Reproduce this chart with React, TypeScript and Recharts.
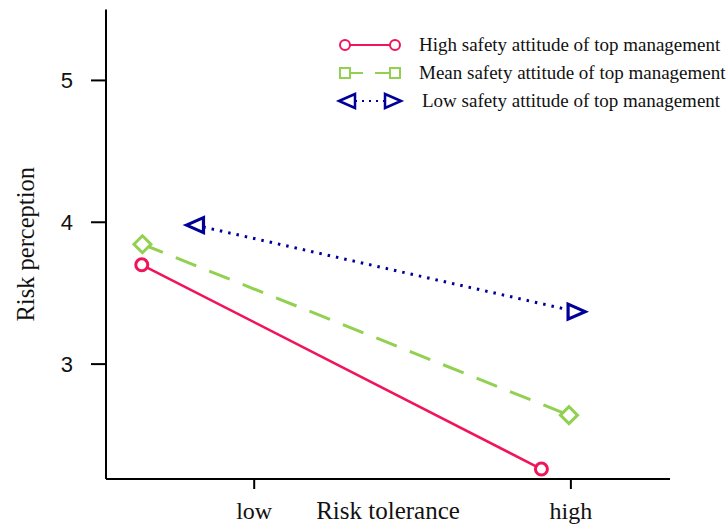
import React from 'react';
import { LineChart, Line, XAxis, YAxis, Legend, Label } from 'recharts';

// risk tolerance (0 = low, 1 = high) and risk perception per group
const highX = [-0.355, 0.907];
const highY = [3.7, 2.26];
const meanX = [-0.353, 0.994];
const meanY = [3.845, 2.64];
const lowX = [-0.187, 1.018];
const lowY = [3.98, 3.37];

const xTicks = [0, 1];
const xTickLabels = ['low', 'high'];
const yTicks = [3, 4, 5];

const seriesNames = [
  'High safety attitude of top management',
  'Mean safety attitude of top management',
  'Low safety attitude of top management',
];

const PINK = '#F0145A';
const GREEN = '#92D050';
const BLUE = '#000099';
const SERIF = '"Liberation Serif", "Times New Roman", serif';
const SANS = '"Liberation Sans", Arial, sans-serif';

const toPoints = (xs: number[], ys: number[]) => xs.map((x, i) => ({ x, y: ys[i] }));

const highData = toPoints(highX, highY);
const meanData = toPoints(meanX, meanY);
const lowData = toPoints(lowX, lowY);

const CircleDot = (props: any) => {
  const { cx, cy, index } = props;
  return <circle key={`c-${index}`} cx={cx} cy={cy} r={6} fill="#fff" stroke={PINK} strokeWidth={3} />;
};

const DiamondDot = (props: any) => {
  const { cx, cy, index } = props;
  const s = 8.5;
  return (
    <path
      key={`d-${index}`}
      d={`M${cx - s},${cy} L${cx},${cy - s} L${cx + s},${cy} L${cx},${cy + s} Z`}
      fill="#fff"
      stroke={GREEN}
      strokeWidth={3}
    />
  );
};

const triPath = (cx: number, cy: number, dir: number, w = 8, h = 7) =>
  `M${cx - dir * w},${cy} L${cx + dir * w},${cy - h} L${cx + dir * w},${cy + h} Z`;

const TriangleDot = (props: any) => {
  const { cx, cy, index } = props;
  // first point points left, last one points right
  const dir = index === 0 ? 1 : -1;
  return (
    <path key={`t-${index}`} d={triPath(cx, cy, dir, 8.5, 7.5)} fill="#fff" stroke={BLUE} strokeWidth={3.2} />
  );
};

const LegendBox = () => {
  const rows = [15, 43, 71];
  const x1 = 15, x2 = 65;
  return (
    <svg width={396} height={90}>
      <line x1={x1} y1={rows[0]} x2={x2} y2={rows[0]} stroke={PINK} strokeWidth={2} />
      <circle cx={x1} cy={rows[0]} r={5} fill="#fff" stroke={PINK} strokeWidth={2} />
      <circle cx={x2} cy={rows[0]} r={5} fill="#fff" stroke={PINK} strokeWidth={2} />

      <line x1={x1 + 4} y1={rows[1]} x2={x2 - 4} y2={rows[1]} stroke={GREEN} strokeWidth={2} strokeDasharray="14 12" />
      <line x1={x2 - 18} y1={rows[1]} x2={x2 - 4} y2={rows[1]} stroke={GREEN} strokeWidth={2} />
      <rect x={x1 - 5} y={rows[1] - 5} width={10} height={10} fill="#fff" stroke={GREEN} strokeWidth={2} />
      <rect x={x2 - 5} y={rows[1] - 5} width={10} height={10} fill="#fff" stroke={GREEN} strokeWidth={2} />

      <line x1={x1 + 10} y1={rows[2]} x2={x2 - 8} y2={rows[2]} stroke={BLUE} strokeWidth={2} strokeDasharray="2 5" />
      <path d={triPath(x1 + 2, rows[2], 1)} fill="#fff" stroke={BLUE} strokeWidth={2.5} />
      <path d={triPath(x2 - 2, rows[2], -1)} fill="#fff" stroke={BLUE} strokeWidth={2.5} />

      {seriesNames.map((name, i) => (
        <text key={name} x={i === 2 ? 92 : 89} y={rows[i] + 6} fontFamily={SERIF} fontSize={19} fill="#111">
          {name}
        </text>
      ))}
    </svg>
  );
};

export default function App() {
  return (
    <div style={{ position: 'absolute', left: 0, top: 0, background: '#fff' }}>
      <LineChart width={726} height={531} margin={{ top: 9.5, right: 56, bottom: 0, left: 0 }}>
        <XAxis
          type="number"
          dataKey="x"
          domain={[-0.468, 1.313]}
          allowDataOverflow
          ticks={xTicks}
          tickFormatter={(v: number) => xTickLabels[xTicks.indexOf(v)] ?? ''}
          height={52}
          axisLine={{ stroke: '#000', strokeWidth: 2 }}
          tickLine={{ stroke: '#000', strokeWidth: 2 }}
          tickSize={10}
          tickMargin={13}
          tick={{ fill: '#111', fontSize: 24, fontFamily: SERIF }}
        >
          <Label
            value="Risk tolerance"
            position="insideBottom"
            offset={12}
            style={{ fill: '#111', fontSize: 25, fontFamily: SERIF }}
          />
        </XAxis>
        <YAxis
          type="number"
          dataKey="y"
          domain={[2.19, 5.5]}
          allowDataOverflow
          ticks={yTicks}
          width={106}
          axisLine={{ stroke: '#000', strokeWidth: 2 }}
          tickLine={{ stroke: '#000', strokeWidth: 2 }}
          tickSize={15}
          tickMargin={18}
          tick={{ fill: '#111', fontSize: 22, fontFamily: SANS }}
        >
          <Label
            value="Risk perception"
            angle={-90}
            position="insideLeft"
            offset={25}
            style={{ fill: '#111', fontSize: 24.5, fontFamily: SERIF, textAnchor: 'middle' }}
          />
        </YAxis>
        <Legend
          layout="horizontal"
          verticalAlign="middle"
          align="center"
          content={() => <LegendBox />}
          wrapperStyle={{ top: 30, left: 330, width: 396, height: 90 }}
        />
        <Line
          data={lowData}
          dataKey="y"
          name={seriesNames[2]}
          stroke={BLUE}
          strokeWidth={3}
          strokeDasharray="2.5 6"
          dot={TriangleDot}
          activeDot={false}
          isAnimationActive={false}
        />
        <Line
          data={meanData}
          dataKey="y"
          name={seriesNames[1]}
          stroke={GREEN}
          strokeWidth={3}
          strokeDasharray="22 14"
          dot={DiamondDot}
          activeDot={false}
          isAnimationActive={false}
        />
        <Line
          data={highData}
          dataKey="y"
          name={seriesNames[0]}
          stroke={PINK}
          strokeWidth={2.5}
          dot={CircleDot}
          activeDot={false}
          isAnimationActive={false}
        />
      </LineChart>
    </div>
  );
}
